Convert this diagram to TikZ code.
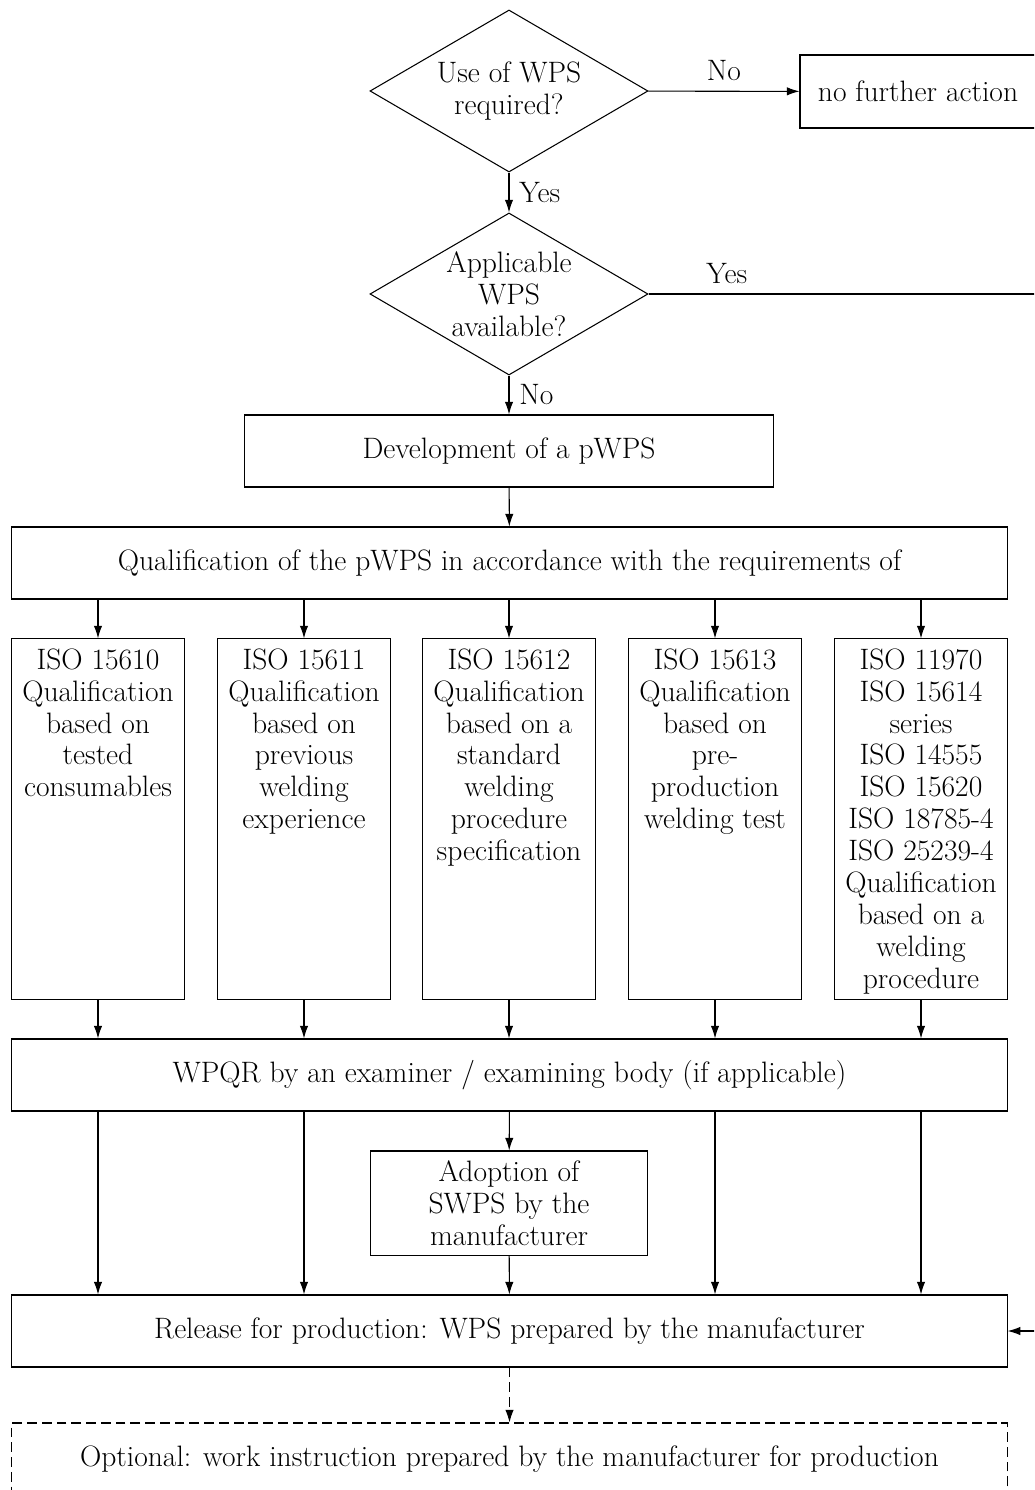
\documentclass[tikz,border=0pt]{standalone}
\usetikzlibrary{shapes.geometric,arrows.meta}
\tikzset{
  block/.style={draw, line width=0.75pt, minimum height=1.8cm, inner sep=0pt, align=center},
  wide/.style={block, minimum width=24.875cm},
  decision/.style={draw, diamond, line width=0.75pt, inner sep=0pt, aspect=1.716,
    minimum width=6.95cm, minimum height=4.05cm, align=center},
  colbox/.style={draw, line width=0.75pt, minimum width=4.325cm, minimum height=9cm, inner sep=0pt},
  coltext/.style={anchor=north, align=center, inner sep=7pt},
  arr/.style={line width=0.75pt, -{Latex[length=9pt,width=6pt]}},
  tag/.style={inner sep=7pt}
}
\begin{document}
\begin{tikzpicture}[x=0.025cm, y=-0.025cm, font=\fontsize{21}{22.7}\selectfont]
\useasboundingbox (0,0) rectangle (1034,1490);
\clip (0,0) rectangle (1034,1490);
  \node[decision] (use) at (509,91) {Use of WPS\\required?};
  \node[block, minimum width=5.9cm, minimum height=1.825cm] (nfa) at (918,91.5) {no further action};
  \node[decision] (avail) at (509,294) {Applicable\\WPS\\available?};
  \node[block, minimum width=13.2cm] (dev) at (509,451) {Development of a pWPS};
  \node[wide] (qual) at (509.5,563) {Qualification of the pWPS in accordance with the requirements of};
  % columns
  \node[colbox] (c1) at (98,819) {};
  \node[colbox] (c2) at (304,819) {};
  \node[colbox] (c3) at (509,819) {};
  \node[colbox] (c4) at (715,819) {};
  \node[colbox] (c5) at (921,819) {};
  \node[coltext] (t1) at (c1.north) {ISO 15610\\Qualification\\based on\\tested\\consumables};
  \node[coltext] (t2) at (c2.north) {ISO 15611\\Qualification\\based on\\previous\\welding\\experience};
  \node[coltext] (t3) at (c3.north) {ISO 15612\\Qualification\\based on a\\standard\\welding\\procedure\\specification};
  \node[coltext] (t4) at (c4.north) {ISO 15613\\Qualification\\based on\\pre-\\production\\welding test};
  \node[coltext] (t5) at (c5.north) {ISO 11970\\ISO 15614\\series\\ISO 14555\\ISO 15620\\ISO 18785-4\\ISO 25239-4\\Qualification\\based on a\\welding\\procedure};
  \node[wide] (wpqr) at (509.5,1075) {WPQR by an examiner / examining body (if applicable)};
  \node[block, minimum width=6.9cm, minimum height=2.6cm] (adopt) at (509,1203) {Adoption of\\SWPS by the\\manufacturer};
  \node[wide] (release) at (509.5,1331) {Release for production: WPS prepared by the manufacturer};
  \node[wide, dash pattern=on 7pt off 3.5pt] (optional) at (509.5,1459) {Optional: work instruction prepared by the manufacturer for production};
  \coordinate (rtop) at (1060,294);
  \coordinate (rbot) at (1060,1331);
  \draw[arr] (use) -- node[tag, above] {No} (nfa);
  \draw[arr] (use) -- node[tag, right] {Yes} (avail);
  \draw[arr] (avail.east) -- node[tag, above, pos=0.19] {Yes} (rtop) -- (rbot) -- (release.east);
  \draw[arr] (avail) -- node[tag, right] {No} (dev);
  \draw[arr] (dev) -- (qual);
  \foreach \c in {c1,c2,c3,c4,c5}{
    \draw[arr] (qual.south -| \c) -- (\c);
    \draw[arr] (\c) -- (wpqr.north -| \c);
  }
  \foreach \c in {c1,c2,c4,c5}
    \draw[arr] (wpqr.south -| \c) -- (release.north -| \c);
  \draw[arr] (wpqr) -- (adopt);
  \draw[arr] (adopt) -- (release);
  \draw[arr, dash pattern=on 7pt off 3.5pt] (release) -- (optional);
\end{tikzpicture}
\end{document}
